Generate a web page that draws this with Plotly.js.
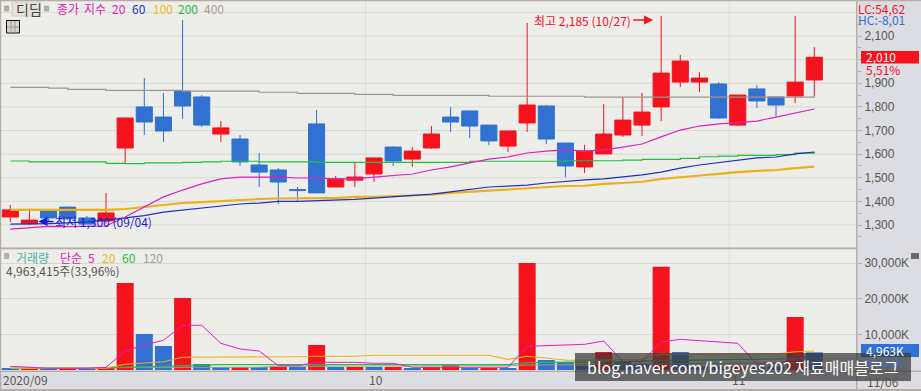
<!DOCTYPE html>
<html><head><meta charset="utf-8">
<script src="https://cdn.plot.ly/plotly-3.0.1.min.js"></script>
<style>html,body{margin:0;padding:0;background:#dcdde2;overflow:hidden}#c{width:921px;height:391px}</style>
</head><body><div id="c"></div>
<script>
const dates = ['09/03','09/04','09/07','09/08','09/09','09/10','09/11','09/14','09/15','09/16','09/17','09/18','09/21','09/22','09/23','09/24','09/25','09/28','09/29',
 '10/05','10/06','10/07','10/08','10/12','10/13','10/14','10/15','10/16','10/19','10/20','10/21','10/22','10/23','10/26','10/27','10/28','10/29','10/30',
 '11/02','11/03','11/04','11/05','11/06'];
const open  = [1334,1305,1359,1376,1330,1317,1626,1800,1757,1867,1842,1685,1664,1554,1533,1450,1728,1461,1490,1516,1630,1579,1626,1757,1783,1723,1634,1732,1804,1647,1546,1601,1681,1723,1800,1905,1905,1897,1723,1876,1842,1846,1914];
const close = [1364,1321,1330,1326,1304,1351,1753,1736,1698,1804,1723,1711,1567,1524,1482,1446,1436,1495,1503,1584,1571,1613,1685,1736,1719,1656,1698,1808,1664,1550,1613,1685,1744,1778,1943,1994,1922,1753,1850,1825,1808,1905,2010];
const high  = [1385,1368,1364,1376,1338,1436,1753,1922,1859,2168,1850,1740,1681,1605,1541,1461,1787,1508,1563,1584,1634,1630,1719,1800,1783,1723,1698,2155,1808,1647,1639,1812,1842,1859,2185,2020,1948,1905,1850,1893,1842,2185,2053];
const low   = [1313,1300,1313,1322,1304,1305,1563,1681,1651,1749,1715,1651,1550,1461,1389,1402,1436,1461,1461,1482,1550,1546,1622,1694,1668,1639,1609,1694,1643,1503,1520,1601,1673,1677,1740,1884,1863,1749,1719,1795,1761,1816,1846];
const ma20  = [1283,1288,1294,1293,1293,1296,1334,1376,1419,1448,1474,1495,1503,1503,1503,1499,1499,1495,1495,1503,1508,1516,1533,1546,1563,1579,1588,1605,1613,1618,1613,1618,1630,1643,1673,1702,1719,1728,1733,1740,1757,1774,1791];
const ma60  = [1304,1304,1306,1309,1313,1321,1330,1340,1355,1364,1374,1383,1389,1393,1400,1400,1402,1406,1409,1414,1419,1423,1431,1440,1452,1461,1465,1469,1478,1486,1491,1495,1503,1512,1524,1541,1554,1563,1575,1584,1588,1601,1609];
const ma100 = [1364,1364,1364,1364,1364,1364,1368,1376,1385,1393,1397,1402,1406,1410,1412,1414,1414,1414,1419,1420,1423,1424,1428,1436,1441,1445,1450,1457,1462,1465,1466,1474,1478,1483,1495,1503,1509,1516,1524,1529,1533,1541,1547];
const ma200 = [1571,1567,1567,1567,1567,1561,1560,1563,1563,1565,1567,1570,1570,1567,1567,1567,1565,1565,1565,1565,1565,1565,1565,1565,1570,1570,1570,1570,1570,1572,1572,1572,1575,1578,1578,1582,1589,1592,1595,1595,1598,1604,1609];
const ma400 = [1883,1883,1879,1874,1874,1870,1870,1870,1870,1867,1867,1867,1867,1862,1862,1857,1857,1857,1853,1853,1849,1849,1849,1849,1849,1845,1845,1845,1845,1845,1841,1841,1841,1841,1841,1841,1841,1841,1841,1841,1841,1841,1846];
const volume = [560,280,280,280,280,840,24460,10120,6750,20240,1690,840,840,840,840,840,7030,840,840,840,840,560,840,1500,560,560,560,30080,2810,2250,1200,5060,2340,1800,29040,5060,1000,1000,1000,1000,1000,14900,4963];
const volUp  = [0,1,0,1,0,1,1,0,0,1,0,0,1,0,1,0,1,0,1,0,1,0,1,1,0,1,0,1,0,0,0,1,0,0,1,0,0,0,1,0,0,1,0];
const vma5   = [1040,760,480,480,480,760,5340,7030,8350,12570,12570,7500,5900,5340,1210,1200,2160,2160,2160,1880,1880,760,760,760,760,760,760,6660,6830,7110,7220,8150,2340,2340,7870,8630,8240,7790,7500,1690,1880,3000,4500];
const vma20  = [480,480,480,480,480,560,1600,2050,2340,3570,3570,3570,3570,3570,3570,3740,3850,3850,3850,4130,4130,4130,4130,4130,4130,4130,3000,3850,3370,2730,2730,2800,2800,3000,4400,4500,4500,4500,4500,4500,4500,5150,5340];
const vma60  = [480,480,480,480,480,600,760,930,1050,1200,1500,1500,1500,1500,1500,1500,1500,1500,1500,1500,1500,1500,1500,1500,1500,1500,1500,2050,2200,2200,2200,2300,2530,2530,2700,2800,3000,3000,3000,3000,3100,3290,3290];
const vma120 = [480,480,480,480,480,560,760,760,760,760,760,760,760,760,1040,1040,1040,1040,1040,1040,1040,1040,1040,1040,1040,1040,1200,1400,1500,1500,1500,1500,1600,1600,1800,1900,1900,1900,1900,1900,2000,2100,2100];
const priceTicks = [2100,1900,1800,1700,1600,1500,1400,1300];
const priceGrid  = [2200,2100,2000,1900,1800,1700,1600,1500,1400,1300];
const volTicks = [30000,20000,10000];
const monthMarks = [['10',18.56],['11',37.56]];
const priceLegend = [['종가',56,'#e020c0'],['지수',83,'#e020c0'],['20',111,'#e020c0'],['60',131,'#2030c8'],['100',152,'#f0b818'],['200',177,'#20c040'],['400',203,'#a89c94']];
const volLegend = [['거래량',15,'#50b0a8'],['단순',59,'#e020c0'],['5',87,'#e020c0'],['20',101,'#f0b818'],['60',121,'#20c040'],['120',142,'#a89c94']];

const W=921,H=391, KR='"Noto Sans CJK KR"', LAT='"Liberation Sans"';
const RED='#f5121d',BLUE='#3071d1',GRID='#d9d9d4',FRAME='#b5aca5',TXT='#5a5550';
const px=v=>v/W, py=v=>1-v/H;
const line=(y,c,w,yax,name,shape)=>({type:'scatter',mode:'lines',x:dates,y,name,xaxis:yax==='y'?'x':'x2',yaxis:yax,
  line:{color:c,width:w,shape:shape||'linear'},hoverinfo:'skip'});

const traces=[
 {type:'candlestick',x:dates,open,high,low,close,whiskerwidth:0,xaxis:'x',yaxis:'y',
  increasing:{line:{color:RED,width:1},fillcolor:RED},decreasing:{line:{color:BLUE,width:1},fillcolor:BLUE}},
 line(ma400,'#a3948c',1.2,'y','400','hv'),
 line(ma200,'#22c040',1.2,'y','200','hv'),
 line(ma100,'#ecb01a',2.1,'y','100'),
 line(ma60,'#1e30c4',1.2,'y','60'),
 line(ma20,'#e020c0',1.2,'y','20'),
 {type:'bar',x:dates,y:volume,xaxis:'x2',yaxis:'y2',marker:{color:volUp.map(u=>u?RED:BLUE),line:{width:0}},width:0.888},
 line(vma120,'#a89c94',1,'y2','120'),
 line(vma60,'#22c040',1.2,'y2','60'),
 line(vma20,'#ecb01a',1.1,'y2','20'),
 line(vma5,'#e020c0',1,'y2','5'),
];

const xr=[(1-10.3)/19.143,(857-10.3)/19.143];
const yScale=4.232, price=p=>2100-(p-36)*yScale, vol=p=>(370-p)/0.003557;
const ax={type:'category',range:xr,domain:[px(1),px(857)],showgrid:false,zeroline:false,showticklabels:false,ticks:'',fixedrange:true,showline:false};
const a=(text,x,y,color,size,extra)=>Object.assign({xref:'paper',yref:'paper',x:px(x),y:py(y),text,showarrow:false,xanchor:'left',yanchor:'middle',
  font:{family:KR,size:size||12,color:color||TXT},borderpad:0},extra||{});
const rect=(x0,y0,x1,y1,fill,extra)=>Object.assign({type:'rect',xref:'paper',yref:'paper',x0:px(x0),x1:px(x1),y0:py(y0),y1:py(y1),fillcolor:fill,line:{width:0},layer:'above'},extra||{});

const shapes=[
 ...monthMarks.flatMap(([,i])=>[
   {type:'line',xref:'x',yref:'y',x0:i,x1:i,y0:price(248),y1:price(1),line:{color:'#dededa',width:1},layer:'below'},
   {type:'line',xref:'x2',yref:'y2',x0:i,x1:i,y0:vol(371),y1:vol(249),line:{color:'#dededa',width:1},layer:'below'}]),
 rect(0,0,921,1.2,FRAME), rect(0,0,1.2,391,FRAME), rect(0,389,921,391,FRAME),
 rect(0,247.6,857,249.2,FRAME), rect(0,370.6,921,372,FRAME), rect(856,0,857.4,391,FRAME),
 rect(12,2,40.5,16,'#e4e4de',{line:{color:'#d0cec8',width:1}}),
 rect(4.5,6,8.5,11,'#b5aca5',{line:{color:'#8f8880',width:.5}}),
 rect(44.5,6,48.5,11,'#b5aca5',{line:{color:'#8f8880',width:.5}}),
 rect(6.5,20.5,19.5,33,'#d8d4cc',{line:{color:'#111',width:1}}),
 {type:'line',xref:'paper',yref:'paper',x0:px(7),x1:px(19),y0:py(27),y1:py(27),line:{color:'#a09888',width:1},layer:'above'},
 {type:'line',xref:'paper',yref:'paper',x0:px(11),x1:px(11),y0:py(21),y1:py(33),line:{color:'#a09888',width:1},layer:'above'},
 {type:'line',xref:'paper',yref:'paper',x0:px(15),x1:px(15),y0:py(21),y1:py(33),line:{color:'#a09888',width:1},layer:'above'},
 rect(4.5,253.5,8.5,258.5,'#b5aca5',{line:{color:'#8f8880',width:.5}}),
 rect(911,253,919,259,'#6a6660'),
 rect(861,51,919,63.5,RED),
 rect(861,344,919,357,BLUE),
 rect(575,353,911,381,'rgba(55,55,55,0.72)'),
];

const annotations=[
 a('디딤',15,9,'#4a4540',14),
 ...priceLegend.map(([t,x,c])=>a(t,x,9,c,12)),
 ...volLegend.map(([t,x,c])=>a(t,x,257,c,12)),
 a('4,963,415주(33,96%)',5,270,TXT,12),
 a('2020/09',2,379,TXT,12),
 ...monthMarks.map(([t,i])=>({xref:'x2',yref:'paper',x:i,y:py(379),text:t,showarrow:false,xanchor:'left',yanchor:'middle',xshift:1,font:{family:KR,size:12,color:TXT}})),
 a('11/06',866,381,TXT,12),
 a('LC:54,62',857,8,RED,12),
 a('HC:-8,01',857,20,BLUE,12),
 a('2,010',865,57,'#ffffff',12),
 a('5,51%',865,69,RED,12),
 a('4,963K',865,350,'#ffffff',12),
 a('4,963K',865,362,'#3a6cc0',12),
 {xref:'x',yref:'y',x:dates[34],y:price(20),text:'최고 2,185 (10/27)',showarrow:true,arrowhead:2,arrowsize:1.3,arrowwidth:1.4,arrowcolor:RED,standoff:8,
  ax:-28,ay:0,xanchor:'right',yanchor:'middle',font:{family:KR,size:12,color:RED}},
 {xref:'x',yref:'y',x:dates[1],y:price(222.5),text:'최저 1,300 (09/04)',showarrow:true,arrowhead:2,arrowsize:1.3,arrowwidth:1.4,arrowcolor:'#1818e0',standoff:9,
  ax:24,ay:0,xanchor:'left',yanchor:'middle',yshift:1,font:{family:KR,size:12,color:'#1818e0'}},
 a('blog.naver.com/bigeyes202 재료매매블로그',586,367,'#ffffff',16),
];

const layout={width:W,height:H,margin:{l:0,r:0,t:0,b:0},paper_bgcolor:'#dcdde2',plot_bgcolor:'#edeee9',showlegend:false,dragmode:false,
 bargap:0.11,boxgap:0.16,boxgroupgap:0,boxmode:'overlay',
 xaxis:Object.assign({},ax,{anchor:'y',rangeslider:{visible:false}}),
 xaxis2:Object.assign({},ax,{anchor:'y2'}),
 yaxis:{domain:[py(248),py(1)],range:[price(248),price(1)],side:'right',anchor:'x',zeroline:false,fixedrange:true,showline:false,
   tickmode:'array',tickvals:priceTicks,ticktext:priceTicks.map(v=>v.toLocaleString('en-US')),ticks:'outside',ticklen:4,tickcolor:FRAME,tickwidth:1,
   showgrid:false,tickfont:{family:LAT,size:12,color:TXT},
   minor:{tickmode:'array',tickvals:[2150,2050,2000,1950,1850,1750,1650,1550,1450,1350,1250],ticks:'outside',ticklen:3,tickcolor:FRAME,showgrid:false}},
 yaxis2:{domain:[py(371),py(249)],range:[vol(371),vol(249)],side:'right',anchor:'x2',zeroline:false,fixedrange:true,showline:false,
   tickmode:'array',tickvals:volTicks,ticktext:volTicks.map(v=>v.toLocaleString('en-US')+'K'),ticks:'outside',ticklen:4,tickcolor:FRAME,tickwidth:1,
   showgrid:true,gridcolor:GRID,gridwidth:1,tickfont:{family:LAT,size:12,color:TXT}},
};
// horizontal price grid lines, drawn under the candles
priceGrid.forEach(v=>shapes.push({type:'line',xref:'paper',yref:'y',x0:px(1),x1:px(856),y0:v,y1:v,line:{color:GRID,width:1},layer:'below'}));
layout.shapes=shapes; layout.annotations=annotations;
Plotly.newPlot('c',traces,layout,{displayModeBar:false,staticPlot:true});
</script></body></html>
